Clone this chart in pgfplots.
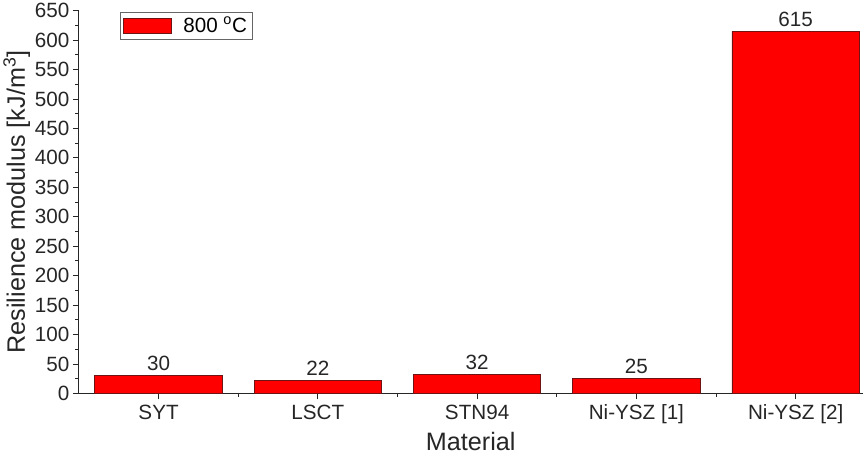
\documentclass[border=0pt]{standalone}
\usepackage{fontspec}
\setmainfont{Liberation Sans}
\usepackage{pgfplots}
\pgfplotsset{compat=1.18}
\definecolor{barred}{RGB}{255,0,0}
\definecolor{baredge}{RGB}{110,20,20}
\begin{document}
\begin{tikzpicture}
\begin{axis}[
  scale only axis, width=778pt, height=380pt,
  ybar, bar width=0.8,
  xmin=-0.5, xmax=4.42, ymin=0, ymax=650,
  axis x line*=bottom, axis y line*=left,
  axis line style={-, line width=0.9pt, black!85},
  xtick={0,1,2,3,4},
  xticklabels={SYT,LSCT,STN94,Ni-YSZ [1],Ni-YSZ [2]},
  minor xtick={0.5,1.5,2.5,3.5},
  ytick={0,50,...,650}, minor ytick={25,75,...,625},
  tick align=outside, major tick length=6pt, minor tick length=3.5pt,
  every tick/.style={black!85, line width=0.9pt},
  /pgf/number format/assume math mode=true,
  tick label style={font=\fontsize{20.5}{23}\selectfont, text=black!85},
  xticklabel style={yshift=-2pt},
  xlabel={Material}, ylabel={Resilience modulus [kJ/m\textsuperscript{3}]},
  label style={font=\fontsize{25}{28}\selectfont, text=black!85},
  ylabel style={yshift=-2pt},
  xlabel style={yshift=-1pt},
  nodes near coords,
  every node near coord/.style={font=\fontsize{20.5}{23}\selectfont, text=black!85, yshift=1pt},
  legend style={at={(0.052,0.997)}, anchor=north west, draw=black!60, line width=0.7pt,
    font=\fontsize{20.5}{23}\selectfont, inner sep=3pt},
  legend image code/.code={\draw[#1, line width=0.8pt] (0pt,-7.5pt) rectangle (48pt,7.5pt);},
]
\addplot[fill=barred, draw=baredge, line width=0.8pt] coordinates {(0,30) (1,22) (2,32) (3,25) (4,615)};
\addlegendentry{\hspace*{9pt}800 \textsuperscript{o}C}
\end{axis}
\end{tikzpicture}
\end{document}
